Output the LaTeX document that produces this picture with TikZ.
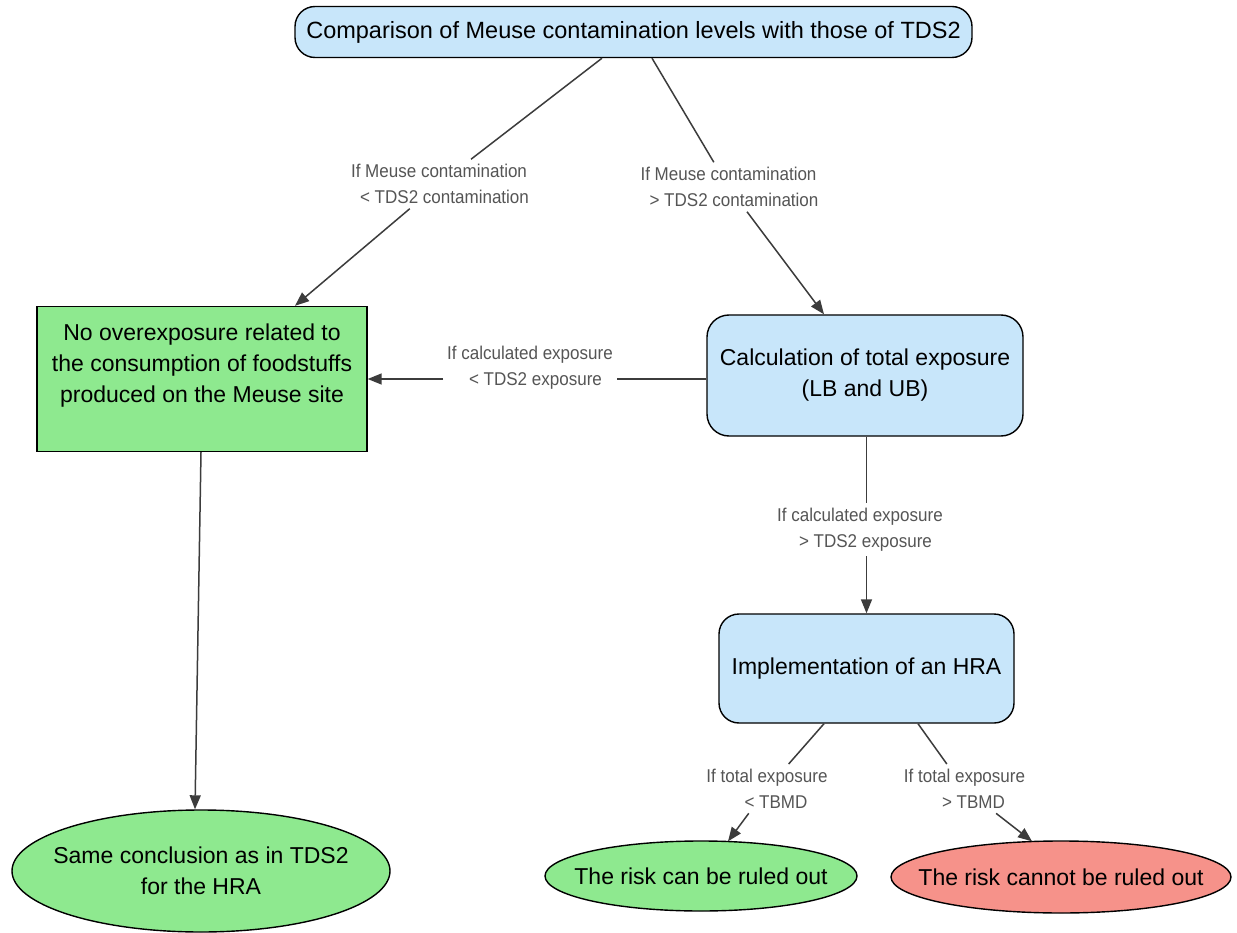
\documentclass[tikz,border=0pt]{standalone}
\usepackage{fontspec}
\setmainfont{Liberation Sans}
\newfontfamily\lblfont{Liberation Sans}[FakeStretch=0.92]
\usetikzlibrary{shapes.geometric,arrows.meta,calc}
\definecolor{cblue}{HTML}{C8E6FA}
\definecolor{cgreen}{HTML}{8EE98F}
\definecolor{cred}{HTML}{F6928A}
\definecolor{edgegray}{HTML}{3C3C3C}
\definecolor{lblgray}{HTML}{555555}
\tikzset{
  box/.style={draw=black, line width=1.4pt, align=center, inner sep=0pt,
    font=\fontsize{23}{31}\selectfont},
  bluebox/.style={box, fill=cblue, rounded corners=20pt},
  greenbox/.style={box, fill=cgreen},
  endell/.style={box, ellipse, inner xsep=-120pt, inner ysep=-25pt},
  lbl/.style={font=\lblfont\fontsize{18.5}{25.5}\selectfont, text=lblgray,
    align=center, inner xsep=4pt, inner ysep=5pt},
  edge/.style={draw=edgegray, line width=1.5pt},
  arr/.style={-{Triangle[length=14pt,width=11pt]}}
}
\begin{document}
\begin{tikzpicture}[x=1pt,y=-1pt]
\fill[white] (0,0) rectangle (1237,933);
\useasboundingbox (0,0) rectangle (1237,933);

% nodes
\node[bluebox, minimum width=677pt, minimum height=51pt,
  font=\fontsize{23.5}{31}\selectfont] (top) at (633.5,32)
  {Comparison of Meuse contamination levels with those of TDS2};
\node[greenbox, minimum width=330pt, minimum height=145pt] (left) at (202,379)
  {No overexposure related to\\the consumption of foodstuffs\\produced on the Meuse site\\\mbox{}};
\node[bluebox, rounded corners=22pt, minimum width=316pt, minimum height=121pt] (calc) at (865,375.5)
  {Calculation of total exposure\\(LB and UB)};
\node[bluebox, minimum width=295pt, minimum height=109pt] (hra) at (866.5,668.5)
  {Implementation of an HRA};
\node[endell, fill=cgreen, minimum width=378pt, minimum height=122pt] (same) at (201,871)
  {Same conclusion as in TDS2\\for the HRA};
\node[endell, fill=cgreen, minimum width=312pt, minimum height=70pt] (can) at (701,876)
  {The risk can be ruled out};
\node[endell, fill=cred, minimum width=340pt, minimum height=72pt] (cannot) at (1061,877)
  {The risk cannot be ruled out};

% labels
\node[lbl] (l1) at (439,184) {If Meuse contamination\\\hspace*{11pt}< TDS2 contamination};
\node[lbl] (l2) at (728.5,187) {If Meuse contamination\\\hspace*{11pt}> TDS2 contamination};
\node[lbl] (l3) at (530,367.7) {If calculated exposure\\\hspace*{11pt}< TDS2 exposure};
\node[lbl] (l4) at (860,529.7) {If calculated exposure\\\hspace*{11pt}> TDS2 exposure};
\node[lbl] (l5) at (767,788.7) {If total exposure\\\hspace*{18pt}< TBMD};
\node[lbl] (l6) at (964.5,788.7) {If total exposure\\\hspace*{18pt}> TBMD};

% connectors
\draw[edge] ($(top.south)+(-31.5,0)$) -- (l1);
\draw[edge,arr] (l1) -- ($(left.north)+(93,0)$);
\draw[edge] ($(top.south)+(18.5,0)$) -- (l2);
\draw[edge,arr] (l2) -- ($(calc.north)+(-41,0)$);
\draw[edge] (calc.west |- left.east) -- (l3.east |- left.east);
\draw[edge,arr] (l3.west |- left.east) -- (left.east);
\draw[edge] (calc.south -| hra.north) -- (l4.north -| hra.north);
\draw[edge,arr] (l4.south -| hra.north) -- (hra.north);
\draw[edge] ($(hra.south)+(-42.5,0)$) -- (l5);
\draw[edge,arr] (l5) -- ($(can.north)+(27,1)$);
\draw[edge] ($(hra.south)+(51.5,0)$) -- (l6);
\draw[edge,arr] (l6) -- ($(cannot.north)+(-29,1)$);
\draw[edge,arr] ($(left.south)+(-1,0)$) -- ($(same.north)+(-6,0)$);
\end{tikzpicture}
\end{document}
